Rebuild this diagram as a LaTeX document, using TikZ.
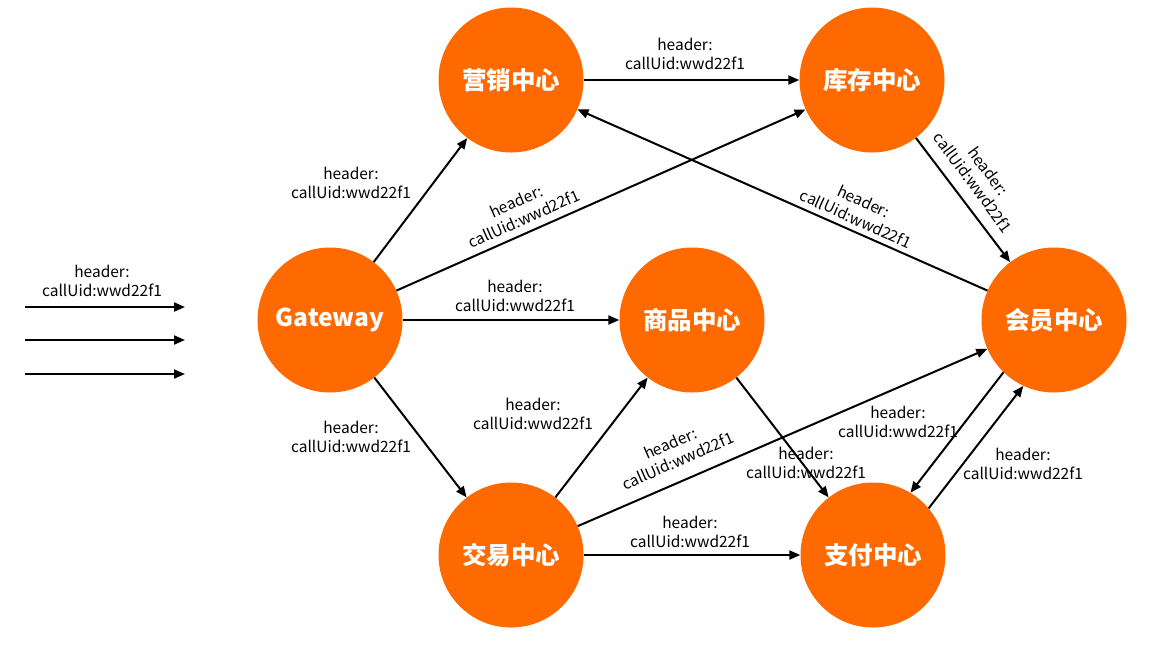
\documentclass[tikz,border=0pt]{standalone}
\usepackage{fontspec}
\setmainfont{Noto Sans CJK SC}
\usetikzlibrary{arrows.meta}
\definecolor{svc}{RGB}{255,106,0}
\tikzset{
  svcnode/.style={circle,fill=svc,draw=none,minimum size=145pt,inner sep=0pt,
    text=white,font=\fontsize{24.5}{28}\selectfont\bfseries},
  arr/.style={line width=2pt,-{Triangle[length=11pt,width=9pt]}},
  lbl/.style={align=center,font=\fontsize{15.5}{19}\selectfont,inner sep=0pt}
}
\begin{document}
\begin{tikzpicture}[x=1pt,y=-1pt]
\useasboundingbox (0,0) rectangle (1151,657);
\node[svcnode] (gw) at (330,320) {Gateway};
\node[svcnode] (yx) at (511,80) {营销中心};
\node[svcnode] (kc) at (872,80) {库存中心};
\node[svcnode] (sp) at (692,320) {商品中心};
\node[svcnode] (hy) at (1054,320) {会员中心};
\node[svcnode] (jy) at (511,555) {交易中心};
\node[svcnode] (zf) at (873,555) {支付中心};
% left legend arrows
\coordinate (a1) at (25,307); \coordinate (b1) at (185,307);
\coordinate (a2) at (25,340); \coordinate (b2) at (185,340);
\coordinate (a3) at (25,374); \coordinate (b3) at (185,374);
\draw[arr] (a1) -- (b1);
\draw[arr] (a2) -- (b2);
\draw[arr] (a3) -- (b3);
\node[lbl] (l0) at (102,281) {header:\\callUid:wwd22f1};
% edges
\draw[arr] (gw) -- (yx);
\draw[arr] (gw) -- (kc);
\draw[arr] (gw) -- (sp);
\draw[arr] (gw) -- (jy);
\draw[arr] (yx) -- (kc);
\draw[arr] (hy) -- (yx);
\draw[arr] (kc) -- (hy);
\draw[arr] (sp) -- (zf);
\draw[arr] (jy) -- (sp);
\draw[arr] (jy) -- (hy);
\draw[arr] (jy) -- (zf);
\draw[arr] (hy.226) -- (zf.59);
\draw[arr] (zf.40) -- (hy.245);
% labels
\node[lbl] (l1) at (351,183) {header:\\callUid:wwd22f1};
\node[lbl,rotate=23.9] (l2) at (520,210) {header:\\callUid:wwd22f1};
\node[lbl] (l3) at (515,296) {header:\\callUid:wwd22f1};
\node[lbl] (l4) at (351,437) {header:\\callUid:wwd22f1};
\node[lbl] (l5) at (685,54) {header:\\callUid:wwd22f1};
\node[lbl,rotate=-24.3] (l6) at (860,210) {header:\\callUid:wwd22f1};
\node[lbl,rotate=-53.7] (l7) at (981,177) {header:\\callUid:wwd22f1};
\node[lbl] (l8) at (806,463) {header:\\callUid:wwd22f1};
\node[lbl] (l9) at (533,414) {header:\\callUid:wwd22f1};
\node[lbl,rotate=23.5] (l10) at (674,452) {header:\\callUid:wwd22f1};
\node[lbl] (l11) at (690,532) {header:\\callUid:wwd22f1};
\node[lbl] (l12) at (898,422) {header:\\callUid:wwd22f1};
\node[lbl] (l13) at (1023,464) {header:\\callUid:wwd22f1};
\end{tikzpicture}
\end{document}
